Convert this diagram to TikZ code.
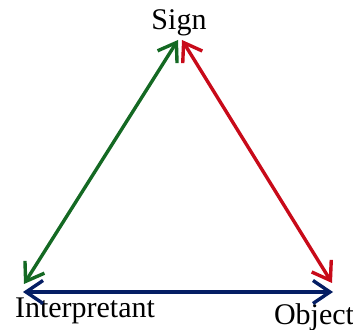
\documentclass[tikz,border=0pt]{standalone}
\usepackage{fontspec}
\setmainfont{Liberation Serif}
\usetikzlibrary{arrows.meta}
\definecolor{sgreen}{RGB}{20,105,35}
\definecolor{sred}{RGB}{200,10,25}
\definecolor{sblue}{RGB}{5,30,100}
\tikzset{
  lbl/.style={font=\fontsize{15}{17}\selectfont, inner sep=0pt, anchor=base},
  rel/.style={line width=1.7pt, {Straight Barb[length=8.5pt,width=11.5pt]}-{Straight Barb[length=8.5pt,width=11.5pt]}}
}
\begin{document}
\begin{tikzpicture}[x=0.5pt,y=-0.5pt]
\useasboundingbox (0,0) rectangle (353,330);
\node[lbl] (sign) at (179,30) {Sign};
\node[lbl] (interp) at (85,318) {Interpretant};
\node[lbl] (obj) at (314,325) {Object};
\coordinate (sg) at (178,40);
\coordinate (sr) at (182,40);
\coordinate (ig) at (24,284);
\coordinate (ib) at (23,292);
\coordinate (or) at (332,283);
\coordinate (ob) at (333,292);
\draw[rel, sgreen] (sg) -- (ig);
\draw[rel, sred] (sr) -- (or);
\draw[rel, sblue] (ib) -- (ob);
\end{tikzpicture}
\end{document}
